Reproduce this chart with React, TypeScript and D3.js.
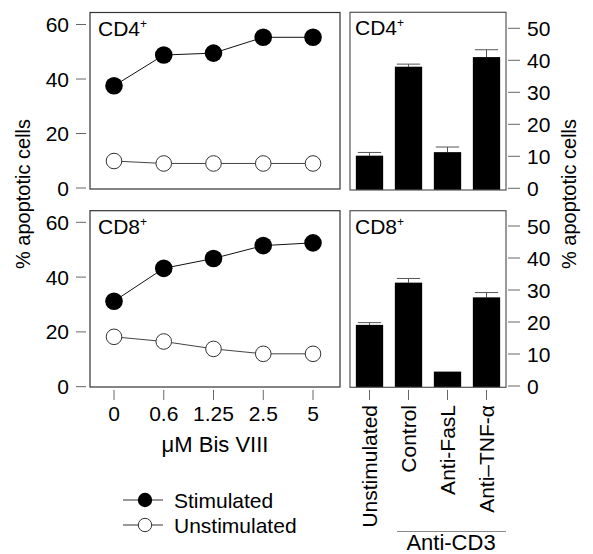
import React from 'react';
import { scaleLinear, scalePoint, scaleBand, line } from 'd3';

// dose-response data (% apoptotic cells)
const doses = ['0', '0.6', '1.25', '2.5', '5'];
const cd4Stim = [37.5, 48.8, 49.5, 55.3, 55.3];
const cd4Unstim = [9.9, 9.0, 9.0, 9.0, 9.0];
const cd8Stim = [31.2, 43.2, 46.8, 51.5, 52.5];
const cd8Unstim = [18.2, 16.5, 13.8, 12.0, 12.0];
const lineTicks = [0, 20, 40, 60];

// bar panels
const treatments = ['Unstimulated', 'Control', 'Anti-FasL', 'Anti\u2013TNF-\u03b1'];
const cd4Bars = [10.2, 38.0, 11.3, 41.0];
const cd4Err = [1.0, 0.8, 1.6, 2.3];
const cd8Bars = [19.1, 32.3, 4.5, 27.7];
const cd8Err = [0.7, 1.3, 0, 1.5];
const barTicks = [0, 10, 20, 30, 40, 50];

const width = 593;
const height = 554;
const font = 'Liberation Sans, Arial, Helvetica, sans-serif';
const fs = 21;

const x = scalePoint<string>().domain(doses).range([114, 313]);
const xb = scaleBand<string>().domain(treatments).range([350, 506]).paddingInner(0.3).paddingOuter(0.15);

const LinePanel = ({ top, bottom, y0, y60, stim, unstim, label }: any) => {
  const y = scaleLinear().domain([0, 60]).range([y0, y60]);
  const pts = (vals: number[]) => doses.map((d, i) => [x(d) as number, y(vals[i])] as [number, number]);
  const path = line();
  return (
    <g>
      <rect x={90} y={top} width={250} height={bottom - top} fill="none" stroke="#333" strokeWidth={1.2} />
      {lineTicks.map((t) => (
        <g key={t}>
          <line x1={76} x2={86} y1={y(t)} y2={y(t)} stroke="#666" strokeWidth={1} />
          <text x={69} y={y(t)} dy="0.36em" textAnchor="end" fontSize={fs}>{t}</text>
        </g>
      ))}
      <text x={98} y={top + 23} fontSize={fs}>
        {label}
        <tspan fontSize={12} dy={-8}>+</tspan>
      </text>
      <path d={path(pts(unstim)) || ''} fill="none" stroke="#444" strokeWidth={1} />
      <path d={path(pts(stim)) || ''} fill="none" stroke="#111" strokeWidth={1} />
      {pts(unstim).map(([cx, cy], i) => (
        <circle key={'u' + i} cx={cx} cy={cy} r={7.8} fill="#fff" stroke="#333" strokeWidth={1} />
      ))}
      {pts(stim).map(([cx, cy], i) => (
        <circle key={'s' + i} cx={cx} cy={cy} r={8.8} fill="#000" />
      ))}
    </g>
  );
};

const BarPanel = ({ top, bottom, y0, y50, vals, errs, label }: any) => {
  const y = scaleLinear().domain([0, 50]).range([y0, y50]);
  const bw = xb.bandwidth();
  return (
    <g>
      {treatments.map((t, i) => {
        const bx = xb(t) as number;
        const cx = bx + bw / 2;
        return (
          <g key={t}>
            {errs[i] > 0 && (
              <g stroke="#555" strokeWidth={1}>
                <line x1={cx} x2={cx} y1={y(vals[i])} y2={y(vals[i] + errs[i])} />
                <line x1={bx + 2} x2={bx + bw - 2} y1={y(vals[i] + errs[i])} y2={y(vals[i] + errs[i])} />
              </g>
            )}
            <rect x={bx} y={y(vals[i])} width={bw} height={bottom - y(vals[i])} fill="#000" />
          </g>
        );
      })}
      <rect x={350} y={top} width={156} height={bottom - top} fill="none" stroke="#555" strokeWidth={1.2} />
      {barTicks.map((t) => (
        <g key={t}>
          <line x1={508} x2={520} y1={y(t)} y2={y(t)} stroke="#666" strokeWidth={1} />
          <text x={527} y={y(t)} dy="0.36em" fontSize={fs}>{t}</text>
        </g>
      ))}
      <text x={355} y={top + 23} fontSize={fs}>
        {label}
        <tspan fontSize={12} dy={-8}>+</tspan>
      </text>
    </g>
  );
};

const App = () => {
  return (
    <svg width={width} height={height} style={{ position: 'absolute', left: 0, top: 0 }} fontFamily={font} fill="#000">
      <LinePanel top={12.5} bottom={189} y0={188} y60={24.5} stim={cd4Stim} unstim={cd4Unstim} label="CD4" />
      <LinePanel top={210.7} bottom={387} y0={386.7} y60={222.3} stim={cd8Stim} unstim={cd8Unstim} label="CD8" />
      <BarPanel top={12.3} bottom={190} y0={188.3} y50={28.3} vals={cd4Bars} errs={cd4Err} label="CD4" />
      <BarPanel top={210.7} bottom={387.3} y0={386} y50={226} vals={cd8Bars} errs={cd8Err} label="CD8" />

      {/* x axis of the dose panels */}
      {doses.map((d) => (
        <g key={d}>
          <line x1={x(d)} x2={x(d)} y1={390} y2={400} stroke="#666" />
          <text x={x(d)} y={421} textAnchor="middle" fontSize={fs}>{d}</text>
        </g>
      ))}
      <text x={215} y={452} textAnchor="middle" fontSize={fs + 1}>{'\u03bcM Bis VIII'}</text>

      {/* category axis of the bar panels */}
      {treatments.map((t) => {
        const cx = (xb(t) as number) + xb.bandwidth() / 2;
        return (
          <g key={t}>
            <line x1={cx} x2={cx} y1={390} y2={400} stroke="#666" />
            <text transform={`translate(${cx + 7.5},405) rotate(-90)`} textAnchor="end" fontSize={fs}>{t}</text>
          </g>
        );
      })}
      <line x1={397} x2={506} y1={531.5} y2={531.5} stroke="#888" />
      <text x={451} y={550} textAnchor="middle" fontSize={fs + 1}>Anti-CD3</text>

      {/* axis titles */}
      <text transform="translate(30,194) rotate(-90)" textAnchor="middle" fontSize={20}>% apoptotic cells</text>
      <text transform="translate(576,194) rotate(-90)" textAnchor="middle" fontSize={20}>% apoptotic cells</text>

      {/* legend */}
      <line x1={123} x2={163} y1={500} y2={500} stroke="#333" />
      <circle cx={145} cy={500} r={7.2} fill="#000" />
      <text x={174} y={500} dy="0.36em" fontSize={fs}>Stimulated</text>
      <line x1={123} x2={163} y1={525} y2={525} stroke="#333" />
      <circle cx={145} cy={525} r={6.7} fill="#fff" stroke="#333" />
      <text x={174} y={525} dy="0.36em" fontSize={fs}>Unstimulated</text>
    </svg>
  );
};

export default App;
